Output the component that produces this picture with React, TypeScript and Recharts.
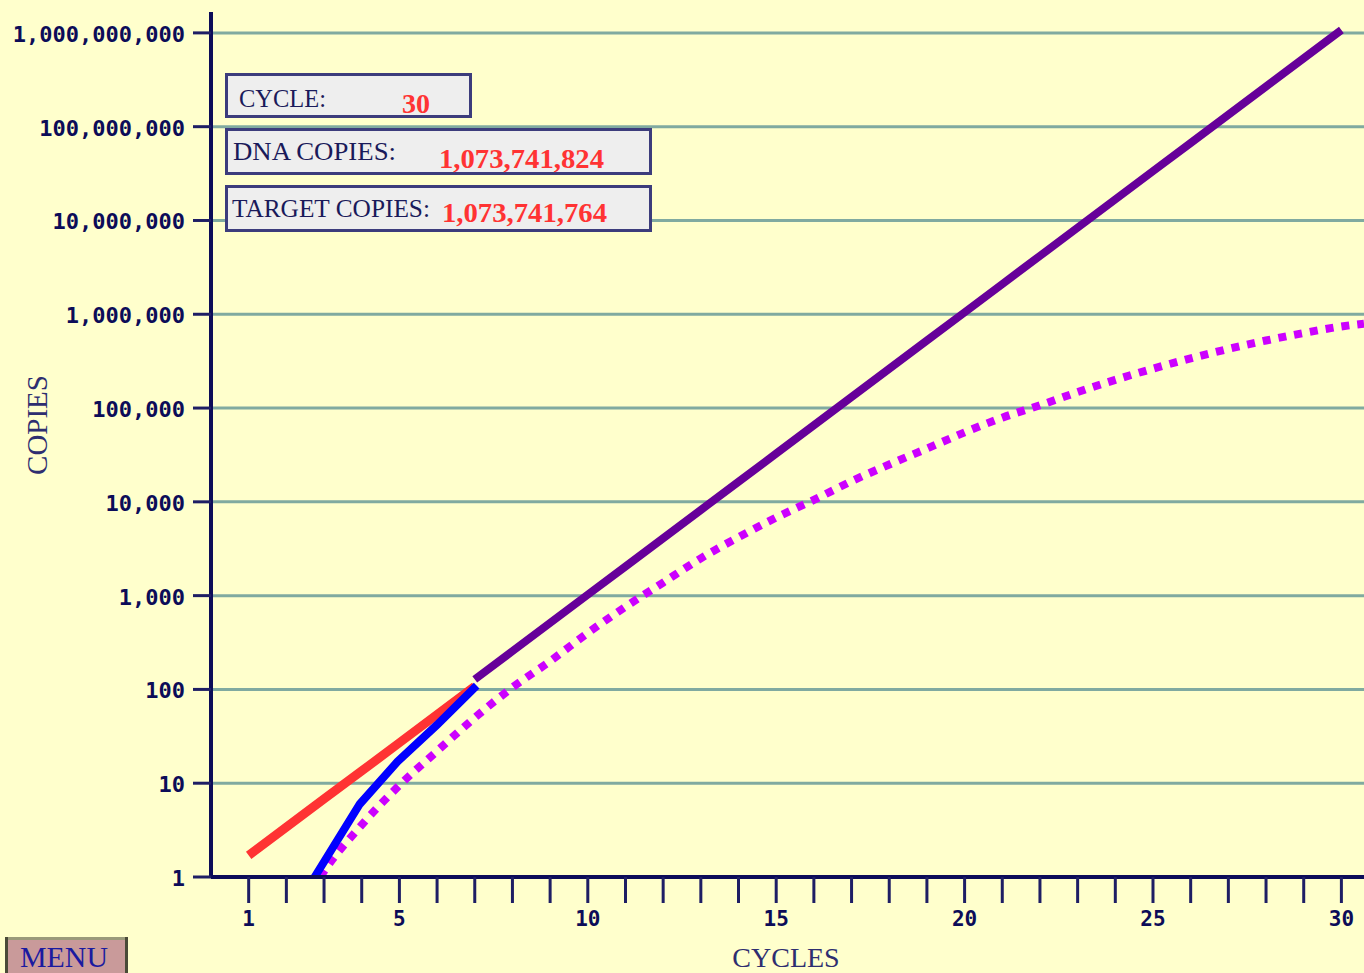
import { LineChart, Line, XAxis, YAxis, ReferenceLine } from "recharts";

// DNA copies while only the long products exist (red), cycles 1-7
const earlyCycles = [1, 2, 3, 4, 5, 6, 7];
const earlyCopies = [1.7, 3.4, 6.8, 13.5, 27, 54, 108];

// DNA copies after the target takes over (purple), cycles 7-30
const dnaCycles = [7, 8, 9, 10, 11, 12, 13, 14, 15, 16, 17, 18, 19, 20, 21, 22, 23, 24, 25, 26, 27, 28, 29, 30];
const dnaCopies = [
    128, 256, 512, 1024, 2048, 4096, 8192, 16384, 32768, 65536, 131072, 262144, 524288,
    1048576, 2097152, 4194304, 8388608, 16777216, 33554432, 67108864, 134217728,
    268435456, 536870912, 1073741824,
];

// target copies (blue)
const targetCycles = [2.75, 3.95, 4.95, 6, 7.05];
const targetCopies = [1, 6, 17, 42, 110];

// dotted magenta curve
const curveCycles = [2.9, 3, 4, 5, 6, 7, 8, 9, 10, 11, 12, 13, 14, 15, 16, 17, 18, 19, 20, 21, 22, 23, 24, 25, 26, 27, 28, 29, 30, 30.6];
const curveCopies = [
    1, 1.15, 3.6, 9.5, 22, 50, 105, 200, 400, 760, 1380, 2500, 4200, 6800, 10500, 16600,
    25000, 37000, 55000, 79000, 107000, 148000, 200000, 263000, 339000, 427000, 525000,
    631000, 741000, 794000,
];

const yTicks = [1, 10, 100, 1000, 10000, 100000, 1000000, 10000000, 100000000, 1000000000];
const xTicks = [1, 2, 3, 4, 5, 6, 7, 8, 9, 10, 11, 12, 13, 14, 15, 16, 17, 18, 19, 20, 21, 22, 23, 24, 25, 26, 27, 28, 29, 30];
const xLabelled = [1, 5, 10, 15, 20, 25, 30];

const readCycle = "30";
const readDna = "1,073,741,824";
const readTarget = "1,073,741,764";

const zip = (xs: number[], ys: number[]) => xs.map((c, i) => ({ cycle: c, copies: ys[i] }));

const navy = "#0c0c58";
const tickFont = "'DejaVu Sans Mono', monospace";
const serif = "'Liberation Serif', 'Times New Roman', serif";

const YTick = (props: any) => {
    const { x, y, payload } = props;
    return (
        <text x={x} y={y} dy={9} textAnchor="end" fontFamily={tickFont} fontWeight="bold" fontSize={22} fill={navy}>
            {Number(payload.value).toLocaleString("en-US")}
        </text>
    );
};

const XTick = (props: any) => {
    const { x, y, payload } = props;
    if (!xLabelled.includes(payload.value)) return <g />;
    return (
        <text x={x} y={y} dy={21} textAnchor="middle" fontFamily={tickFont} fontWeight="bold" fontSize={21} fill={navy}>
            {payload.value}
        </text>
    );
};

export default function App() {
    return (
        <div style={{ position: "absolute", left: 0, top: 0, width: 1364, height: 973, background: "#ffffcc", overflow: "hidden" }}>
            <LineChart width={1364} height={973} margin={{ top: 12, right: 0, left: 0, bottom: 0 }}>
                <XAxis
                    type="number"
                    dataKey="cycle"
                    domain={[0, 30.6]}
                    ticks={xTicks}
                    allowDataOverflow
                    height={96}
                    tickSize={26}
                    tickMargin={2}
                    axisLine={{ stroke: navy, strokeWidth: 4 }}
                    tickLine={{ stroke: "#1e1e64", strokeWidth: 3 }}
                    tick={<XTick />}
                    interval={0}
                />
                <YAxis
                    type="number"
                    dataKey="copies"
                    scale="log"
                    domain={[1, 1670000000]}
                    ticks={yTicks}
                    allowDataOverflow
                    width={211}
                    tickSize={18}
                    tickMargin={8}
                    axisLine={{ stroke: navy, strokeWidth: 4 }}
                    tickLine={{ stroke: "#1e1e64", strokeWidth: 3 }}
                    tick={<YTick />}
                    interval={0}
                />
                {yTicks.slice(1).map((t) => (
                    <ReferenceLine key={t} y={t} stroke="#80aaa0" strokeWidth={3} />
                ))}
                <Line
                    data={zip(curveCycles, curveCopies)}
                    dataKey="copies"
                    type="monotone"
                    stroke="#cc00ff"
                    strokeWidth={8}
                    strokeDasharray="8 8"
                    dot={false}
                    isAnimationActive={false}
                />
                <Line
                    data={zip(earlyCycles, earlyCopies)}
                    dataKey="copies"
                    type="linear"
                    stroke="#ff3333"
                    strokeWidth={9}
                    dot={false}
                    isAnimationActive={false}
                />
                <Line
                    data={zip(targetCycles, targetCopies)}
                    dataKey="copies"
                    type="linear"
                    stroke="#0000ff"
                    strokeWidth={8}
                    dot={false}
                    isAnimationActive={false}
                />
                <Line
                    data={zip(dnaCycles, dnaCopies)}
                    dataKey="copies"
                    type="linear"
                    stroke="#660099"
                    strokeWidth={8}
                    dot={false}
                    isAnimationActive={false}
                />
            </LineChart>

            <svg width={1364} height={973} style={{ position: "absolute", left: 0, top: 0, pointerEvents: "none" }}>
                {/* readout boxes */}
                <rect x={226.5} y={74.5} width={244} height={42} fill="#eeeeee" stroke="#3c3c7c" strokeWidth={3} />
                <rect x={226.5} y={129.5} width={424} height={44} fill="#eeeeee" stroke="#3c3c7c" strokeWidth={3} />
                <rect x={226.5} y={186.5} width={424} height={44} fill="#eeeeee" stroke="#3c3c7c" strokeWidth={3} />

                <text x={239} y={107} fontFamily={serif} fontSize={25} fill="#1a1a5a" textLength={87} lengthAdjust="spacingAndGlyphs">CYCLE:</text>
                <text x={402} y={113} fontFamily={serif} fontWeight="bold" fontSize={28} fill="#ff3333" textLength={28} lengthAdjust="spacingAndGlyphs">{readCycle}</text>

                <text x={233} y={160} fontFamily={serif} fontSize={25} fill="#1a1a5a" textLength={163} lengthAdjust="spacingAndGlyphs">DNA COPIES:</text>
                <text x={439} y={168} fontFamily={serif} fontWeight="bold" fontSize={28} fill="#ff3333" textLength={165} lengthAdjust="spacingAndGlyphs">{readDna}</text>

                <text x={232} y={217} fontFamily={serif} fontSize={25} fill="#1a1a5a" textLength={198} lengthAdjust="spacingAndGlyphs">TARGET COPIES:</text>
                <text x={442} y={222} fontFamily={serif} fontWeight="bold" fontSize={28} fill="#ff3333" textLength={165} lengthAdjust="spacingAndGlyphs">{readTarget}</text>

                {/* axis titles */}
                <text transform="translate(47,425) rotate(-90)" textAnchor="middle" fontFamily={serif} fontSize={29} fill="#2e2e70">COPIES</text>
                <text x={786} y={967} textAnchor="middle" fontFamily={serif} fontSize={28} fill="#2e2e70">CYCLES</text>

                {/* menu button */}
                <rect x={6.5} y={938.5} width={120} height={40} fill="#c99a9a" stroke="#4a4a38" strokeWidth={3} />
                <line x1={8} y1={938.5} x2={125} y2={938.5} stroke="#9a9a7a" strokeWidth={3} />
                <text x={20} y={967} fontFamily={serif} fontSize={30} fill="#1a1aa0" textLength={88} lengthAdjust="spacingAndGlyphs">MENU</text>
            </svg>
        </div>
    );
}
